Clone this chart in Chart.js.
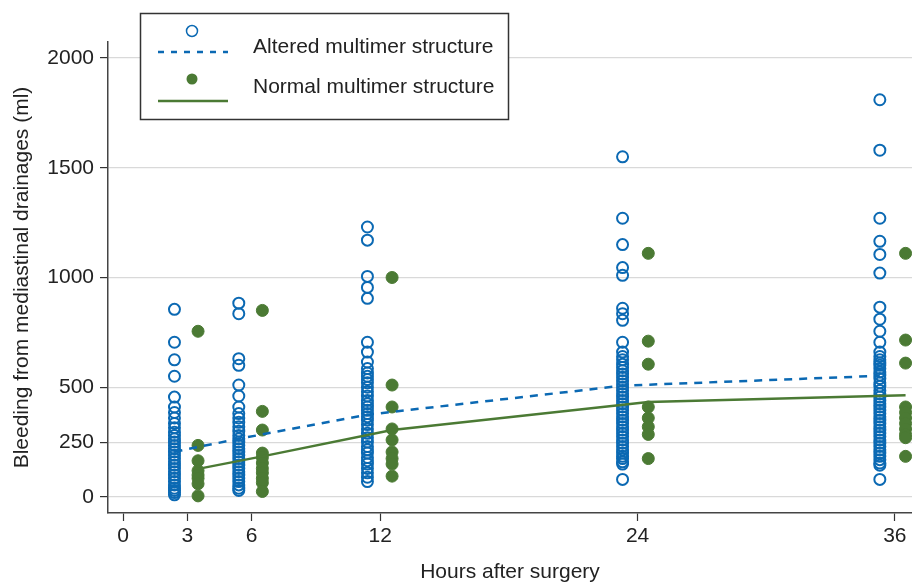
<!DOCTYPE html>
<html>
<head>
<meta charset="utf-8">
<script src="https://cdn.jsdelivr.net/npm/chart.js@4"></script>
<style>
  html, body { margin: 0; padding: 0; background: #fff; }
  #wrap { position: relative; width: 912px; height: 582px; }
</style>
</head>
<body>
<div id="wrap"><canvas id="bleedChart" width="912" height="582"></canvas></div>
<script>
// Zeitpunkte (Stunden) und Position der beiden Gruppen neben dem Zeitpunkt
const hours = [3, 6, 12, 24, 36];
const alteredHours = [2.4, 5.4, 11.4, 23.3, 35.3];
const normalHours = [3.5, 6.5, 12.55, 24.5, 36.5];

// Einzelwerte Blutung (ml), veraenderte Multimerstruktur
const altered3 = [855, 705, 625, 550, 455, 410, 385, 360, 335, 315, 295, 280, 265, 250, 235, 220, 205, 190, 175, 160, 145, 130, 115, 100, 85, 70, 55, 40, 30, 20, 10];
const altered6 = [883, 835, 630, 600, 510, 460, 410, 380, 360, 340, 320, 300, 280, 265, 250, 235, 220, 205, 190, 175, 160, 145, 130, 115, 100, 85, 70, 55, 40, 30];
const altered12 = [1230, 1170, 1005, 955, 905, 705, 660, 615, 585, 565, 550, 535, 520, 500, 480, 460, 440, 425, 410, 395, 380, 365, 350, 330, 310, 290, 270, 250, 230, 215, 200, 180, 165, 150, 130, 110, 90, 70];
const altered24 = [1550, 1270, 1150, 1045, 1010, 860, 835, 805, 705, 660, 640, 625, 605, 590, 575, 560, 545, 530, 515, 500, 485, 470, 455, 440, 425, 410, 395, 380, 365, 350, 335, 320, 305, 290, 275, 260, 245, 230, 215, 200, 185, 175, 160, 150, 80];
const altered36 = [1810, 1580, 1270, 1165, 1105, 1020, 865, 810, 755, 705, 660, 640, 625, 610, 600, 585, 570, 555, 540, 520, 505, 485, 470, 455, 440, 425, 410, 395, 380, 365, 350, 335, 320, 305, 290, 275, 260, 245, 230, 215, 200, 185, 170, 155, 145, 80];

// Einzelwerte Blutung (ml), normale Multimerstruktur
const normal3 = [755, 235, 165, 120, 100, 85, 60, 5];
const normal6 = [850, 390, 305, 200, 180, 155, 130, 110, 85, 65, 25];
const normal12 = [1000, 510, 410, 310, 260, 205, 175, 150, 95];
const normal24 = [1110, 710, 605, 410, 360, 320, 285, 175];
const normal36 = [1110, 715, 610, 410, 385, 360, 335, 310, 285, 270, 185];

// Verlaufslinien
const alteredLine = [206, 265, 375, 507, 552];
const normalLine = [128, 185, 305, 433, 464];

// Achsenbeschriftung
const xTicks = [0, 3, 6, 12, 24, 36];
const yTicks = [0, 250, 500, 1000, 1500, 2000];

const BLUE = '#0b69b3';
const GREEN = '#4b7a34';
const FONT = 'Liberation Sans, Arial, sans-serif';

function toPoints(xs, groups) {
  const pts = [];
  groups.forEach((vals, i) => vals.forEach(v => pts.push({ x: xs[i], y: v })));
  return pts;
}

function linePoints(xs, ys) {
  return xs.map((x, i) => ({ x: x, y: ys[i] }));
}

// Legende im Diagramm
const boxLegend = {
  id: 'boxLegend',
  afterDraw(chart) {
    const ctx = chart.ctx;
    ctx.save();
    ctx.fillStyle = '#fff';
    ctx.fillRect(140, 13, 368, 106);
    ctx.strokeStyle = '#333';
    ctx.lineWidth = 1.5;
    ctx.strokeRect(140.5, 13.5, 368, 106);

    ctx.beginPath();
    ctx.arc(192, 31, 5.5, 0, Math.PI * 2);
    ctx.strokeStyle = BLUE;
    ctx.lineWidth = 1.5;
    ctx.stroke();

    ctx.beginPath();
    ctx.setLineDash([6, 7]);
    ctx.lineWidth = 2.5;
    ctx.moveTo(158, 52);
    ctx.lineTo(228, 52);
    ctx.stroke();
    ctx.setLineDash([]);

    ctx.beginPath();
    ctx.arc(192, 79, 5.5, 0, Math.PI * 2);
    ctx.fillStyle = GREEN;
    ctx.fill();

    ctx.beginPath();
    ctx.strokeStyle = GREEN;
    ctx.lineWidth = 2.5;
    ctx.moveTo(158, 101);
    ctx.lineTo(228, 101);
    ctx.stroke();

    ctx.fillStyle = '#222';
    ctx.font = '21px ' + FONT;
    ctx.textBaseline = 'middle';
    ctx.fillText('Altered multimer structure', 253, 47);
    ctx.fillText('Normal multimer structure', 253, 87);
    ctx.restore();
  }
};

new Chart(document.getElementById('bleedChart'), {
  type: 'scatter',
  data: {
    datasets: [{
      type: 'line',
      data: linePoints(alteredHours, alteredLine),
      borderColor: BLUE,
      borderWidth: 2.5,
      borderDash: [8, 7],
      pointRadius: 0,
      fill: false,
      tension: 0
    }, {
      type: 'line',
      data: linePoints(normalHours, normalLine),
      borderColor: GREEN,
      borderWidth: 2.5,
      pointRadius: 0,
      fill: false,
      tension: 0
    }, {
      label: 'Altered multimer structure',
      data: toPoints(alteredHours, [altered3, altered6, altered12, altered24, altered36]),
      pointRadius: 5.5,
      pointBorderWidth: 2,
      borderColor: BLUE,
      backgroundColor: 'rgba(0,0,0,0)'
    }, {
      label: 'Normal multimer structure',
      data: toPoints(normalHours, [normal3, normal6, normal12, normal24, normal36]),
      pointRadius: 6,
      pointBorderWidth: 1,
      borderColor: GREEN,
      backgroundColor: GREEN
    }]
  },
  options: {
    responsive: false,
    animation: false,
    layout: { autoPadding: false, padding: { top: 42, right: 0, left: 0, bottom: 0 } },
    plugins: {
      legend: { display: false },
      tooltip: { enabled: false }
    },
    scales: {
      x: {
        type: 'linear',
        min: -0.7,
        max: 36.8,
        afterBuildTicks: s => { s.ticks = xTicks.map(v => ({ value: v })); },
        afterFit: s => { s.height = 69; s.paddingLeft = 0; s.paddingRight = 0; },
        grid: { drawOnChartArea: false, tickLength: 8, tickColor: '#333', tickWidth: 1.2 },
        border: { color: '#444', width: 1.5 },
        ticks: { color: '#222', font: { family: FONT, size: 21 }, padding: 3, maxRotation: 0 },
        title: { display: true, text: 'Hours after surgery', color: '#222', font: { family: FONT, size: 21 }, padding: { top: 0, bottom: -3 } }
      },
      y: {
        min: -73,
        max: 2073,
        afterBuildTicks: s => { s.ticks = yTicks.map(v => ({ value: v })); },
        afterFit: s => { s.width = 108; },
        grid: { color: '#d9d9d9', lineWidth: 1.2, tickLength: 8, tickColor: '#333', tickWidth: 1.2 },
        border: { color: '#444', width: 1.5 },
        ticks: { color: '#222', font: { family: FONT, size: 21 }, padding: 6, callback: v => String(v) },
        title: { display: true, text: 'Bleeding from mediastinal drainages (ml)', color: '#222', font: { family: FONT, size: 21 }, padding: { top: 10, bottom: 0 } }
      }
    }
  },
  plugins: [boxLegend]
});
</script>
</body>
</html>
